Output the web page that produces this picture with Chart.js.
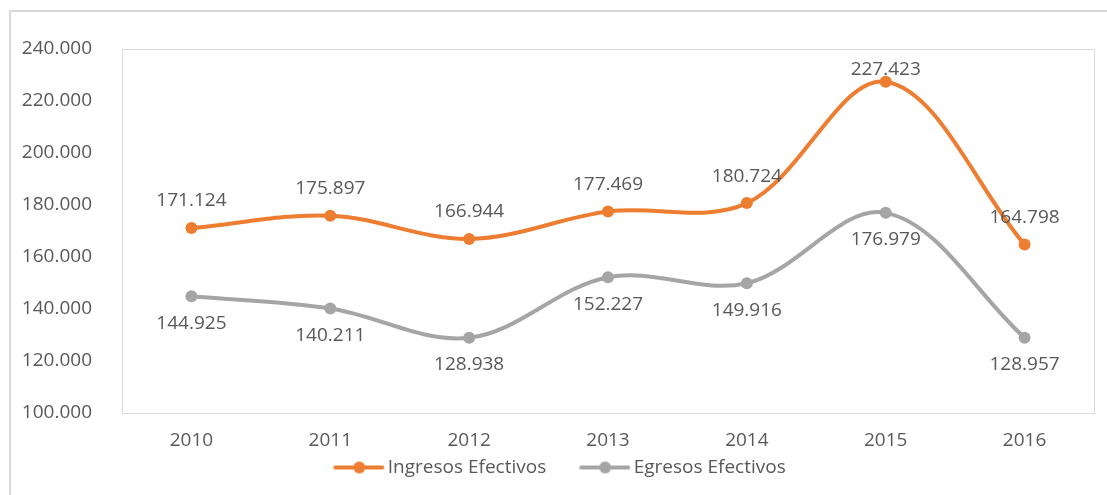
<!DOCTYPE html>
<html>
<head>
<meta charset="utf-8">
<script src="https://cdn.jsdelivr.net/npm/chart.js@4"></script>
<style>
  body { margin: 0; background: #fff; }
  canvas { display: block; }
</style>
</head>
<body>
<canvas id="chart" width="1107" height="495"></canvas>
<script>
const years = ['2010', '2011', '2012', '2013', '2014', '2015', '2016'];
const ingresos = [171124, 175897, 166944, 177469, 180724, 227423, 164798];
const egresos = [144925, 140211, 128938, 152227, 149916, 176979, 128957];
const yTicks = [100000, 120000, 140000, 160000, 180000, 200000, 220000, 240000];

const ORANGE = '#ED7D31';
const GREY = '#A5A5A5';
const TEXT = '#595959';
const FONT = "'Open Sans', sans-serif";

// 123456 -> "123.456"
function fmt(n) {
    return String(Math.round(n)).replace(/\B(?=(\d{3})+(?!\d))/g, '.');
}

// legend swatch: line with a dot in the middle, left part kept empty as item spacing
function swatch(color) {
    const c = document.createElement('canvas');
    c.width = 86; c.height = 14;
    const g = c.getContext('2d');
    g.strokeStyle = color;
    g.lineWidth = 4;
    g.lineCap = 'round';
    g.beginPath(); g.moveTo(35, 7); g.lineTo(82, 7); g.stroke();
    g.fillStyle = color;
    g.beginPath(); g.arc(59, 7, 6, 0, Math.PI * 2); g.fill();
    return c;
}

const frames = {
    id: 'frames',
    beforeDraw(chart) {
        const { ctx, chartArea: a } = chart;
        ctx.save();
        ctx.strokeStyle = '#D9D9D9';
        ctx.lineWidth = 2;
        ctx.strokeRect(10, 11, 1300, 700);
        ctx.lineWidth = 1;
        ctx.strokeRect(a.left + 0.5, a.top + 0.5, a.right - a.left, a.bottom - a.top);
        ctx.restore();
    }
};

const valueLabels = {
    id: 'valueLabels',
    afterDatasetsDraw(chart) {
        const { ctx, chartArea: a } = chart;
        ctx.save();
        ctx.font = '19px ' + FONT;
        ctx.fillStyle = TEXT;
        ctx.textAlign = 'center';
        ctx.textBaseline = 'middle';
        chart.data.datasets.forEach((ds, di) => {
            const meta = chart.getDatasetMeta(di);
            meta.data.forEach((pt, i) => {
                let y = di === 0 ? pt.y - 27 : pt.y + 27;
                y = Math.max(y, a.top + 21);
                ctx.fillText(fmt(ds.data[i]), pt.x, y);
            });
        });
        ctx.restore();
    }
};

Chart.defaults.font.family = FONT;
Chart.defaults.color = TEXT;

new Chart(document.getElementById('chart'), {
    type: 'line',
    data: {
        labels: years,
        datasets: [
            {
                label: 'Ingresos Efectivos',
                data: ingresos,
                borderColor: ORANGE,
                backgroundColor: ORANGE,
                borderWidth: 4,
                pointRadius: 6,
                pointBorderWidth: 0,
                tension: 0.35
            },
            {
                label: 'Egresos Efectivos',
                data: egresos,
                borderColor: GREY,
                backgroundColor: GREY,
                borderWidth: 4,
                pointRadius: 6,
                pointBorderWidth: 0,
                tension: 0.35
            }
        ]
    },
    options: {
        responsive: false,
        animation: false,
        events: [],
        layout: { padding: { top: 49, right: 13, left: 0, bottom: 8 } },
        scales: {
            x: {
                offset: true,
                grid: { display: false },
                border: { display: false },
                ticks: { padding: 8, font: { size: 19 }, color: TEXT },
                afterFit(s) { s.height = 37; }
            },
            y: {
                min: yTicks[0],
                max: yTicks[yTicks.length - 1],
                grid: { display: false },
                border: { display: false },
                afterBuildTicks(s) { s.ticks = yTicks.map(v => ({ value: v })); },
                ticks: {
                    padding: 22,
                    font: { size: 19 },
                    color: TEXT,
                    callback: v => fmt(v)
                },
                afterFit(s) { s.width = 122; }
            }
        },
        plugins: {
            legend: {
                position: 'bottom',
                labels: {
                    usePointStyle: true,
                    pointStyleWidth: 70,
                    padding: 8,
                    font: { size: 19 },
                    color: TEXT,
                    generateLabels(chart) {
                        return chart.data.datasets.map((ds, i) => ({
                            text: ds.label,
                            pointStyle: swatch(ds.borderColor),
                            fillStyle: ds.borderColor,
                            strokeStyle: ds.borderColor,
                            lineWidth: 0,
                            fontColor: TEXT,
                            datasetIndex: i
                        }));
                    }
                }
            },
            tooltip: { enabled: false }
        }
    },
    plugins: [frames, valueLabels]
});
</script>
</body>
</html>
